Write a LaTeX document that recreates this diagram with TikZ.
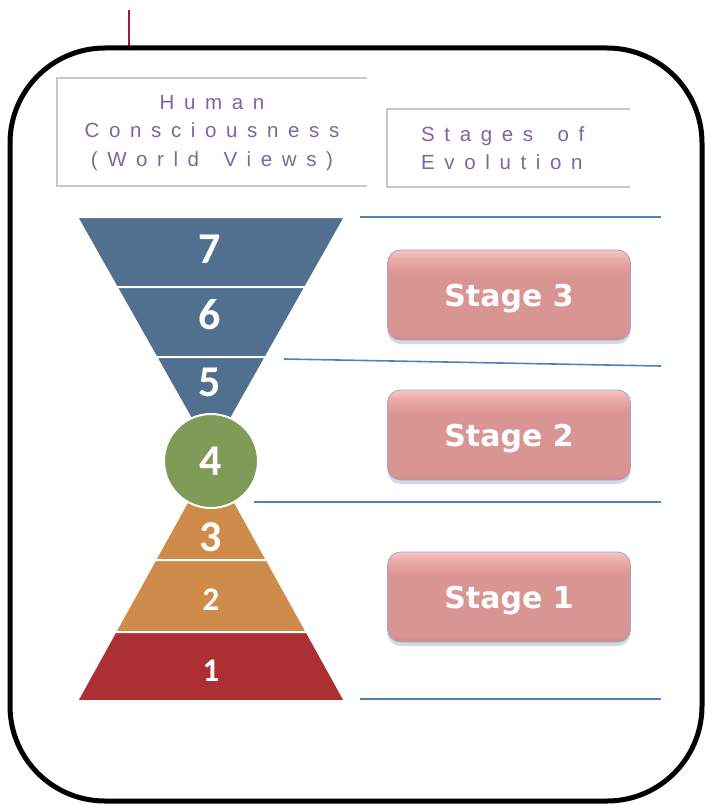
\documentclass[tikz,border=0pt]{standalone}
\usepackage{fontspec}
\setmainfont{Liberation Sans}
\setsansfont{Liberation Sans}
\newfontfamily\headfont[LetterSpace=47, WordSpace=1.6]{Liberation Sans}
\newfontfamily\numfont{Carlito}
\newfontfamily\stagefont{DejaVu Sans}
\usetikzlibrary{shadows}

% pink bevel: bright rim on top, flat face, slightly darker foot
\definecolor{cpinktop}{HTML}{F7C6C4}
\definecolor{cpinkrim}{HTML}{E9ABA9}
\definecolor{cpinkface}{HTML}{D99593}
\definecolor{cpinkbot}{HTML}{D08C8C}
\pgfdeclareverticalshading{stagebevel}{100bp}{%
  color(0bp)=(cpinkbot); color(25bp)=(cpinkbot);
  color(29bp)=(cpinkface); color(62bp)=(cpinkface);
  color(70bp)=(cpinkrim); color(75bp)=(cpinktop);
  color(100bp)=(cpinktop)}

\begin{document}
\begin{tikzpicture}[
    x=1pt, y=-1pt,
    every node/.style={font=\sffamily},
]

\definecolor{cframe}{HTML}{000000}
\definecolor{cmaroon}{HTML}{A2193D}
\definecolor{cgrid}{HTML}{C8C8C8}
\definecolor{cpurple}{HTML}{8064A2}
\definecolor{cline}{HTML}{4F81BD}
\definecolor{cblue}{HTML}{51708F}
\definecolor{cgreen}{HTML}{7F9B57}
\definecolor{corange}{HTML}{CF8B4A}
\definecolor{cred}{HTML}{AC2F33}
\definecolor{cedge}{HTML}{A8A4C4}
\definecolor{cshadow}{HTML}{B8CCE4}

% ================================================================
%  Units are points, y runs downward, page is 706 x 805.
%  Upper funnel: top edge y = 217, x 77..345, apex (211, 454).
%  Lower pyramid: base y = 701, x 77..345, apex (211, 459).
%  The green disc (r = 47) sits over both apexes at (211, 461).
%  Stage boxes 243 x 90 in the column centred on x = 509.
% ================================================================

\tikzset{
  frame/.style={draw=cframe, line width=5pt, rounded corners=95pt},
  tick/.style={draw=cmaroon, line width=2pt},
  headline/.style={draw=cgrid, line width=1.5pt},
  headtext/.style={font=\headfont\fontsize{20.5}{28.5}\selectfont,
                   text=cpurple, inner sep=0pt},
  divider/.style={draw=cline, line width=1.6pt},
  band/.style={draw=white, line width=2pt, line join=round},
  num/.style={font=\numfont\bfseries\fontsize{44}{44}\selectfont,
              text=white, inner sep=0pt},
  smallnum/.style={num, font=\numfont\bfseries\fontsize{33}{33}\selectfont},
  ball/.style={num, circle, fill=cgreen, draw=white, line width=2pt,
               minimum size=94pt},
  stagebox/.style={rounded corners=13pt, minimum width=243pt,
                   minimum height=90pt, draw=cedge, line width=0.8pt,
                   shading=stagebevel, text=white,
                   text height=22pt, text depth=0pt,
                   font=\stagefont\bfseries\fontsize{30}{30}\selectfont,
                   drop shadow={shadow xshift=0pt, shadow yshift=-4pt,
                                fill=cshadow, opacity=0.7}},
}

\useasboundingbox (0,0) rectangle (706,805);

% ---------------------------------------------------------------- frame
\draw[tick] (129,10) -- (129,47);
\draw[frame] (10,48) rectangle (702,801);

% ---------------------------------------------------------------- headings
\draw[headline] (367,78) -- (57,78) -- (57,186) -- (367,186);
\node[headtext, align=center] (hcons) at (212,133)
    {Human\\Consciousness\\(World Views)};

\draw[headline] (630,109) -- (387,109) -- (387,187) -- (630,187);
\node[headtext, align=left, anchor=west] (hstages) at (421,148)
    {Stages of\\Evolution};

% ---------------------------------------------------------------- funnel
\foreach \ya/\yb in {217/287, 287/357, 357/454} {
    \pgfmathsetmacro{\wa}{134/237*(454-\ya)}
    \pgfmathsetmacro{\wb}{134/237*(454-\yb)}
    \filldraw[band, fill=cblue] ({211-\wa},\ya) -- ({211+\wa},\ya)
        -- ({211+\wb},\yb) -- ({211-\wb},\yb) -- cycle;
}

% ---------------------------------------------------------------- pyramid
\foreach \ya/\yb/\c in {459/560/corange, 560/632/corange, 632/701/cred} {
    \pgfmathsetmacro{\wa}{134/242*(\ya-459)}
    \pgfmathsetmacro{\wb}{134/242*(\yb-459)}
    \filldraw[band, fill=\c] ({211-\wa},\ya) -- ({211+\wa},\ya)
        -- ({211+\wb},\yb) -- ({211-\wb},\yb) -- cycle;
}

% ---------------------------------------------------------------- levels
\node[num] (n7) at (210,249) {7};
\node[num] (n6) at (210,315) {6};
\node[num] (n5) at (210,382) {5};
\node[ball] (n4) at (211,461) {4};
\node[num] (n3) at (211,537) {3};
\node[smallnum] (n2) at (211,600) {2};
\node[smallnum] (n1) at (211,671) {1};

% ---------------------------------------------------------------- dividers
\draw[divider] (360,217) -- (661,217);
\draw[divider] (284,359) -- (661,366);
\draw[divider] (254,502) -- (661,502);
\draw[divider] (360,699) -- (661,699);

% ---------------------------------------------------------------- stages
\node[stagebox] (s3) at (509,295) {Stage 3};
\node[stagebox] (s2) at (509,435) {Stage 2};
\node[stagebox] (s1) at (509,597) {Stage 1};

\end{tikzpicture}
\end{document}
